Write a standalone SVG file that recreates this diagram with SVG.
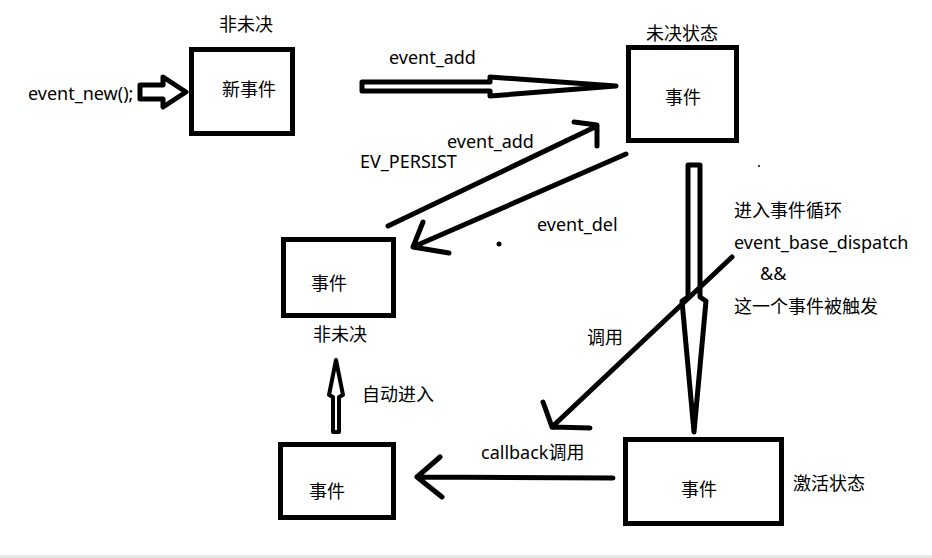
<svg xmlns="http://www.w3.org/2000/svg" width="932" height="558" viewBox="0 0 932 558">
<style>
.box{fill:#fff;stroke:#000;stroke-width:5}
.ln{fill:none;stroke:#000;stroke-width:5;stroke-linecap:round;stroke-linejoin:round}
.hol{fill:#fff;stroke:#000;stroke-width:5;stroke-linejoin:round}
text{font-family:"Noto Sans","Noto Sans CJK SC",sans-serif;font-size:18px;fill:#000}
</style>
<rect x="0" y="0" width="932" height="558" fill="#fff"/>
<rect x="0" y="555" width="932" height="3" fill="#e6e6e6"/>
<g id="new-event">
<rect class="box" x="191.5" y="49.5" width="101" height="84"/>
<text x="222" y="96">新事件</text>
<text x="219" y="31">非未决</text>
</g>
<g id="pending-event">
<rect class="box" x="628.5" y="47.5" width="108" height="93"/>
<text x="665" y="104">事件</text>
<text x="646" y="40">未决状态</text>
</g>
<g id="nonpending-event">
<rect class="box" x="283.5" y="239.5" width="110" height="76"/>
<text x="311" y="290">事件</text>
<text x="313" y="341">非未决</text>
</g>
<g id="bottom-event">
<rect class="box" x="280.5" y="444.5" width="113" height="73"/>
<text x="309" y="498">事件</text>
</g>
<g id="active-event">
<rect class="box" x="625.5" y="439.5" width="156" height="84"/>
<text x="681" y="496">事件</text>
<text x="793" y="490">激活状态</text>
</g>
<g id="connectors">
<polygon class="hol" points="140,85 163,85 163,77 186,92 163,107 163,99 140,99"/>
<text x="28" y="100">event_new();</text>
<polygon class="hol" points="362,82 490,82 490,77 616,86 490,96 490,91 362,91"/>
<text x="389" y="64">event_add</text>
<path class="ln" d="M388,226 L595,127 M574,122 L597,125 L597,146"/>
<text x="447" y="148">event_add</text>
<text x="360" y="168">EV_PERSIST</text>
<path class="ln" d="M626,154 L413,247 M423,222 L413,247 L449,253"/>
<text x="537" y="231">event_del</text>
<circle cx="499" cy="244" r="2.5" fill="#000"/>
<circle cx="759" cy="166" r="1" fill="#000"/>
<polygon class="hol" points="688,165 700,165 700,297 706,301 694,432 682,301 688,297"/>
<text x="734" y="217">进入事件循环</text>
<text x="734" y="249">event_base_dispatch</text>
<text x="760" y="280">&amp;&amp;</text>
<text x="734" y="313">这一个事件被触发</text>
<path class="ln" d="M732,257 L552,427 M543,402 L552,427 L590,428"/>
<text x="587" y="344">调用</text>
<path class="ln" d="M613,478 L417,477 M440,457 L417,477 L442,497"/>
<text x="481" y="459">callback调用</text>
<polygon class="hol" style="stroke-width:4" points="333,432 339,432 339,397 343,395 336,360 329,395 333,397"/>
<text x="362" y="401">自动进入</text>
</g>
</svg>
